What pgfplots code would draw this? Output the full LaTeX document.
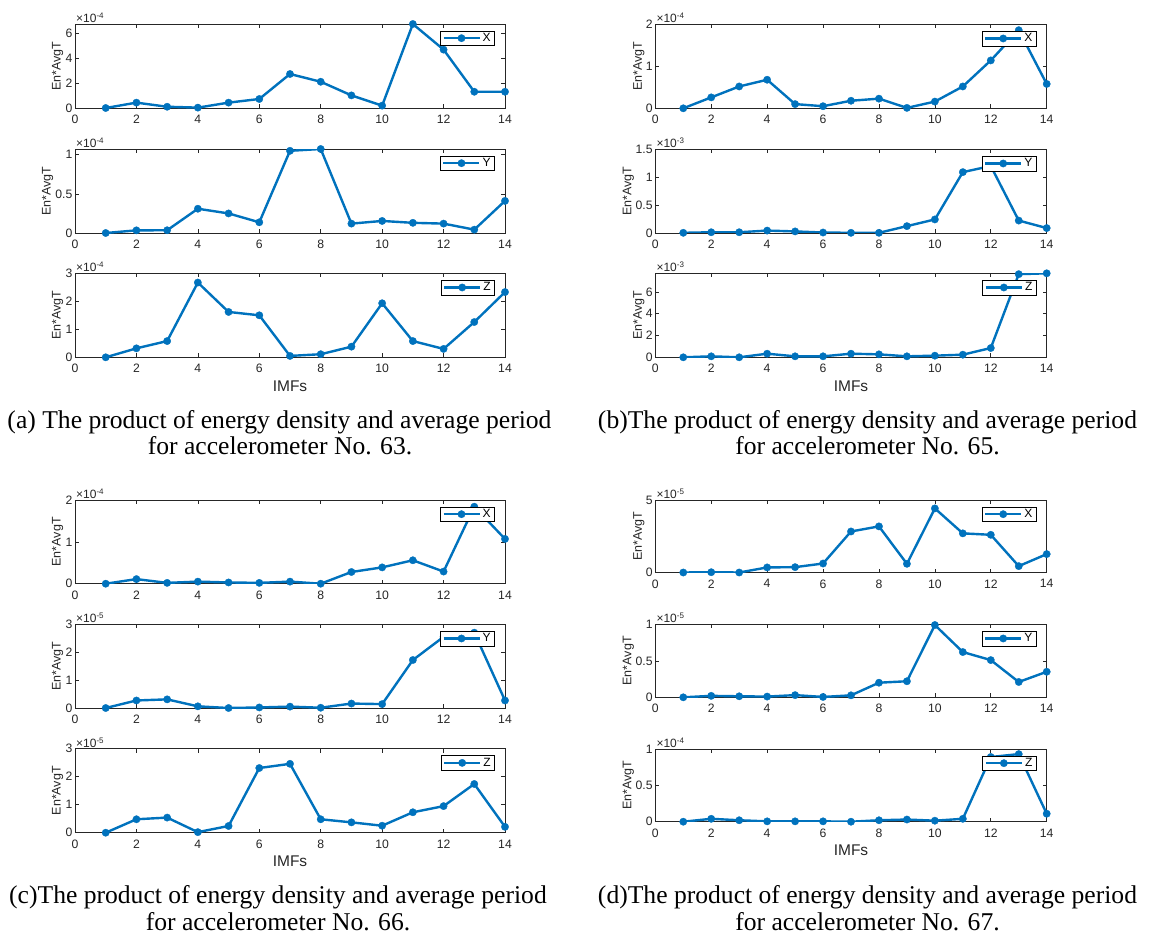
\documentclass[border=0pt]{standalone}
\usepackage{fontspec}
\setmainfont{Liberation Sans}
\newfontfamily\capfont{Liberation Serif}
\usepackage{pgfplots}
\pgfplotsset{compat=1.18}
\definecolor{mblue}{RGB}{0,114,189}
\definecolor{mgray}{RGB}{38,38,38}
\pgfplotsset{
  ylab/.style={every axis y label/.style={at={(rel axis cs:0,0.5)}, xshift=#1, rotate=90, anchor=center, font=\fontsize{12.5}{13}\selectfont, text=mgray}},
  mstyle/.style={
    scale only axis,
    anchor=north west,
    xmin=0, xmax=14, ymin=0,
    xtick={0,2,...,14},
    axis line style={mgray, line width=0.6pt},
    tick style={mgray, line width=0.6pt},
    tick align=inside,
    major tick length=4pt,
    xtick pos=both, ytick pos=both,
    xticklabel pos=lower, yticklabel pos=left,
    tick label style={font=\fontsize{12.2}{13}\selectfont, text=mgray},
    yticklabel style={inner xsep=2.5pt},
    xticklabel style={yshift=-3.5pt},
    /pgf/number format/assume math mode=true,
    ylabel={En*AvgT},
    ylab=-17.5pt,
    every axis x label/.style={at={(rel axis cs:0.5,0)}, yshift=-29pt, anchor=center, font=\fontsize{15.5}{16}\selectfont, text=mgray},
    legend style={at={(1,1)}, anchor=north east, xshift=-10pt, yshift=-6.5pt, draw=black, line width=0.6pt, font=\fontsize{12}{12}\selectfont, inner xsep=2pt, inner ysep=0.5pt},
    legend cell align=left,
    legend image code/.code={\draw[mark repeat=2,mark phase=2,##1] plot coordinates {(0pt,0pt) (18pt,0pt) (36pt,0pt)};},
    every y tick scale label/.style={at={(rel axis cs:0,1)}, anchor=south west, inner sep=1pt, font=\fontsize{12}{12}\selectfont, text=mgray},
    ytick scale label code/.code={×10\textsuperscript{##1}},
  },
  mline/.style={mblue, line width=2.4pt, mark=*, mark size=3.7pt, mark options={solid, fill=mblue, draw=mblue, line width=0.3pt}},
}
\begin{document}
\begin{tikzpicture}
\useasboundingbox (0,0) rectangle (1154pt,-935pt);
% ---------------- (a) ----------------
\begin{axis}[mstyle, at={(75pt,-24pt)}, width=430pt, height=84pt, ymax=6.72e-4, ytick={0,2e-4,4e-4,6e-4}, scaled y ticks=base 10:4]
\addplot[mline] coordinates {(1,0) (2,0.43e-4) (3,0.10e-4) (4,0.03e-4) (5,0.43e-4) (6,0.72e-4) (7,2.72e-4) (8,2.10e-4) (9,1.01e-4) (10,0.19e-4) (11,6.72e-4) (12,4.67e-4) (13,1.30e-4) (14,1.30e-4)};
\addlegendentry{X}
\end{axis}
\begin{axis}[mstyle, at={(75pt,-149pt)}, width=430pt, height=84pt, ymax=1.073e-4, ytick={0,0.5e-4,1e-4}, scaled y ticks=base 10:4, ylab=-27.5pt]
\addplot[mline] coordinates {(1,0) (2,0.034e-4) (3,0.035e-4) (4,0.31e-4) (5,0.25e-4) (6,0.137e-4) (7,1.05e-4) (8,1.073e-4) (9,0.12e-4) (10,0.154e-4) (11,0.13e-4) (12,0.12e-4) (13,0.043e-4) (14,0.41e-4)};
\addlegendentry{Y}
\end{axis}
\begin{axis}[mstyle, at={(75pt,-273.3pt)}, width=430pt, height=84pt, ymax=3e-4, ytick={0,1e-4,2e-4,3e-4}, scaled y ticks=base 10:4, xlabel={IMFs}]
\addplot[mline] coordinates {(1,0) (2,0.32e-4) (3,0.58e-4) (4,2.67e-4) (5,1.62e-4) (6,1.50e-4) (7,0.05e-4) (8,0.11e-4) (9,0.38e-4) (10,1.93e-4) (11,0.58e-4) (12,0.30e-4) (13,1.26e-4) (14,2.33e-4)};
\addlegendentry{Z}
\end{axis}
% ---------------- (b) ----------------
\begin{axis}[mstyle, at={(655.3pt,-24.3pt)}, width=391.4pt, height=84pt, ymax=2e-4, ytick={0,1e-4,2e-4}, scaled y ticks=base 10:4, ylab=-16.5pt]
\addplot[mline] coordinates {(1,0) (2,0.26e-4) (3,0.52e-4) (4,0.68e-4) (5,0.10e-4) (6,0.05e-4) (7,0.18e-4) (8,0.23e-4) (9,0.01e-4) (10,0.16e-4) (11,0.52e-4) (12,1.14e-4) (13,1.86e-4) (14,0.58e-4)};
\addlegendentry{X}
\end{axis}
\begin{axis}[mstyle, at={(655.3pt,-149.3pt)}, width=391.4pt, height=83.5pt, ymax=1.5e-3, ytick={0,0.5e-3,1e-3,1.5e-3}, scaled y ticks=base 10:3, ylab=-27pt]
\addplot[mline] coordinates {(1,0) (2,0.01e-3) (3,0.01e-3) (4,0.04e-3) (5,0.025e-3) (6,0.005e-3) (7,0) (8,0) (9,0.12e-3) (10,0.24e-3) (11,1.09e-3) (12,1.20e-3) (13,0.22e-3) (14,0.085e-3)};
\addlegendentry{Y}
\end{axis}
\begin{axis}[mstyle, at={(655.3pt,-273.3pt)}, width=391.4pt, height=84pt, ymax=7.7e-3, ytick={0,2e-3,4e-3,6e-3}, scaled y ticks=base 10:3, xlabel={IMFs}, ylab=-16.5pt]
\addplot[mline] coordinates {(1,0) (2,0.09e-3) (3,0.0) (4,0.33e-3) (5,0.09e-3) (6,0.09e-3) (7,0.33e-3) (8,0.27e-3) (9,0.09e-3) (10,0.15e-3) (11,0.24e-3) (12,0.85e-3) (13,7.62e-3) (14,7.70e-3)};
\addlegendentry{Z}
\end{axis}
% ---------------- (c) ----------------
\begin{axis}[mstyle, at={(75pt,-500pt)}, width=430pt, height=83.7pt, ymax=2e-4, ytick={0,1e-4,2e-4}, scaled y ticks=base 10:4]
\addplot[mline] coordinates {(1,0) (2,0.11e-4) (3,0.02e-4) (4,0.05e-4) (5,0.03e-4) (6,0.02e-4) (7,0.05e-4) (8,0) (9,0.28e-4) (10,0.39e-4) (11,0.56e-4) (12,0.29e-4) (13,1.84e-4) (14,1.07e-4)};
\addlegendentry{X}
\end{axis}
\begin{axis}[mstyle, at={(75pt,-624.3pt)}, width=430pt, height=83.7pt, ymax=3e-5, ytick={0,1e-5,2e-5,3e-5}, scaled y ticks=base 10:5]
\addplot[mline] coordinates {(1,0) (2,0.27e-5) (3,0.31e-5) (4,0.06e-5) (5,0) (6,0.02e-5) (7,0.05e-5) (8,0.01e-5) (9,0.16e-5) (10,0.14e-5) (11,1.72e-5) (12,2.55e-5) (13,2.70e-5) (14,0.27e-5)};
\addlegendentry{Y}
\end{axis}
\begin{axis}[mstyle, at={(75pt,-748.7pt)}, width=430pt, height=84pt, ymax=3e-5, ytick={0,1e-5,2e-5,3e-5}, scaled y ticks=base 10:5, xlabel={IMFs}]
\addplot[mline] coordinates {(1,0) (2,0.48e-5) (3,0.54e-5) (4,0.02e-5) (5,0.24e-5) (6,2.31e-5) (7,2.46e-5) (8,0.48e-5) (9,0.37e-5) (10,0.25e-5) (11,0.73e-5) (12,0.95e-5) (13,1.74e-5) (14,0.21e-5)};
\addlegendentry{Z}
\end{axis}
% ---------------- (d) ----------------
\begin{axis}[mstyle, at={(655.3pt,-500pt)}, width=391.4pt, height=72.5pt, ymax=5e-5, ytick={0,5e-5}, scaled y ticks=base 10:5, ylab=-16.5pt]
\addplot[mline] coordinates {(1,0) (2,0.02e-5) (3,0) (4,0.35e-5) (5,0.37e-5) (6,0.62e-5) (7,2.83e-5) (8,3.18e-5) (9,0.60e-5) (10,4.42e-5) (11,2.70e-5) (12,2.60e-5) (13,0.44e-5) (14,1.27e-5)};
\addlegendentry{X}
\end{axis}
\begin{axis}[mstyle, at={(655.3pt,-624.3pt)}, width=391.4pt, height=73pt, ymax=1e-5, ytick={0,0.5e-5,1e-5}, scaled y ticks=base 10:5, ylab=-27pt]
\addplot[mline] coordinates {(1,0) (2,0.02e-5) (3,0.014e-5) (4,0.01e-5) (5,0.03e-5) (6,0.005e-5) (7,0.027e-5) (8,0.20e-5) (9,0.22e-5) (10,0.99e-5) (11,0.62e-5) (12,0.51e-5) (13,0.21e-5) (14,0.35e-5)};
\addlegendentry{Y}
\end{axis}
\begin{axis}[mstyle, at={(655.3pt,-749pt)}, width=391.4pt, height=72.7pt, ymax=1e-4, ytick={0,0.5e-4,1e-4}, scaled y ticks=base 10:4, xlabel={IMFs}, ylab=-27pt]
\addplot[mline] coordinates {(1,0) (2,0.04e-4) (3,0.02e-4) (4,0.005e-4) (5,0.005e-4) (6,0.005e-4) (7,0) (8,0.02e-4) (9,0.03e-4) (10,0.014e-4) (11,0.04e-4) (12,0.89e-4) (13,0.93e-4) (14,0.11e-4)};
\addlegendentry{Z}
\end{axis}
% ---------------- captions ----------------
\begin{scope}[every node/.style={anchor=base, inner sep=0pt, font=\capfont\fontsize{25.6}{26}\selectfont}]
\node at (279.5pt,-428pt) {(a) The product of energy density and average period};
\node at (280pt,-454pt) {for accelerometer No. 63.};
\node at (867.5pt,-428pt) {(b)The product of energy density and average period};
\node at (867.5pt,-454pt) {for accelerometer No. 65.};
\node at (278pt,-903pt) {(c)The product of energy density and average period};
\node at (278pt,-930.5pt) {for accelerometer No. 66.};
\node at (867.5pt,-903pt) {(d)The product of energy density and average period};
\node at (867.5pt,-930.5pt) {for accelerometer No. 67.};
\end{scope}
\end{tikzpicture}
\end{document}
